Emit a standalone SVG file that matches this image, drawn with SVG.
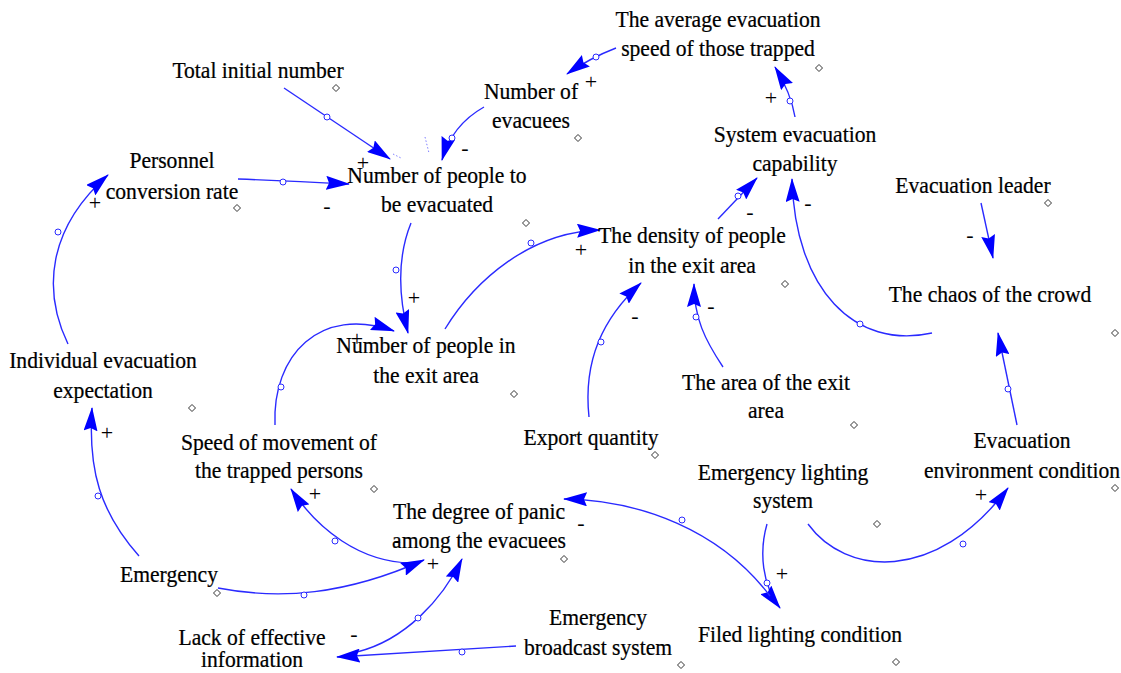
<svg xmlns="http://www.w3.org/2000/svg" width="1121" height="673" viewBox="0 0 1121 673">
<defs>
<style>
.t{font-family:"Liberation Serif","Times New Roman",serif;font-size:24px;fill:#000;text-anchor:middle;stroke:#000;stroke-width:0.25}
.s{font-family:"Liberation Serif","Times New Roman",serif;font-size:22px;fill:#000;text-anchor:middle}
.c{fill:none;stroke:#2a2aff;stroke-width:1.4;marker-end:url(#ah)}
.h{fill:#fff;stroke:#2a2aff;stroke-width:1}
.d{fill:#fff;stroke:#333;stroke-width:1}
.dot{fill:none;stroke:#7f7fff;stroke-width:1;stroke-dasharray:1.5 2}
</style>
<marker id="ah" viewBox="0 0 24 14" refX="23" refY="7" markerWidth="24" markerHeight="14" markerUnits="userSpaceOnUse" orient="auto">
<path d="M0,0 L24,7 L0,14 L3,7 Z" fill="#0000ff"/>
</marker>
<path id="dm" d="M0,-3.5 L3.5,0 L0,3.5 L-3.5,0 Z"/>
</defs>
<rect width="1121" height="673" fill="#fff"/>

<g id="connectors">
<path class="c" d="M616,48 Q590,58 567,74"/>
<path class="c" d="M795,117 Q791,93 775,67"/>
<path class="c" d="M284,88 L390,159"/>
<path class="c" d="M484,107 Q452,125 442,160"/>
<path class="c" d="M238,179 Q290,181 349,184"/>
<path class="c" d="M68,344 C42,290 48,228 108,175"/>
<path class="c" d="M411,223 Q392,270 408,333"/>
<path class="c" d="M275,425 C272,355 320,305 394,331"/>
<path class="c" d="M445,329 C475,280 530,232 600,230"/>
<path class="c" d="M718,219 L757,178"/>
<path class="c" d="M932,333 C855,350 795,290 792,179"/>
<path class="c" d="M981,203 L993,258"/>
<path class="c" d="M589,417 C583,360 603,318 641,283"/>
<path class="c" d="M723,367 C705,340 694,318 694,284"/>
<path class="c" d="M1017,425 L998,333"/>
<path class="c" d="M808,524 C845,575 935,585 1008,488"/>
<path class="c" d="M767,524 C759,552 762,585 780,608"/>
<path class="c" d="M770,596 C720,530 640,500 564,499"/>
<path class="c" d="M411,563 C360,562 318,530 291,489"/>
<path class="c" d="M218,588 C280,600 345,595 424,560"/>
<path class="c" d="M139,556 C100,512 88,470 92,408"/>
<path class="c" d="M357,652 C405,640 442,600 462,559"/>
<path class="c" d="M516,646 L337,657"/>
<line class="dot" x1="393" y1="154" x2="401" y2="158"/>
<line class="dot" x1="425" y1="137" x2="429" y2="153"/>
<g id="handles">
<circle class="h" cx="596" cy="57" r="3"/>
<circle class="h" cx="790" cy="101" r="3"/>
<circle class="h" cx="327" cy="117" r="3"/>
<circle class="h" cx="452" cy="138" r="3"/>
<circle class="h" cx="283" cy="182" r="3"/>
<circle class="h" cx="58" cy="232" r="3"/>
<circle class="h" cx="396" cy="270" r="3"/>
<circle class="h" cx="281" cy="387" r="3"/>
<circle class="h" cx="531" cy="243" r="3"/>
<circle class="h" cx="738" cy="196" r="3"/>
<circle class="h" cx="860" cy="324" r="3"/>
<circle class="h" cx="601" cy="342" r="3"/>
<circle class="h" cx="696" cy="317" r="3"/>
<circle class="h" cx="1008" cy="389" r="3"/>
<circle class="h" cx="963" cy="544" r="3"/>
<circle class="h" cx="767" cy="583" r="3"/>
<circle class="h" cx="682" cy="520" r="3"/>
<circle class="h" cx="335" cy="541" r="3"/>
<circle class="h" cx="304" cy="595" r="3"/>
<circle class="h" cx="98" cy="496" r="3"/>
<circle class="h" cx="418" cy="618" r="3"/>
<circle class="h" cx="462" cy="652" r="3"/>
</g>
<g id="polarities">
<text class="s" x="591" y="89">+</text>
<text class="s" x="771" y="105">+</text>
<text class="s" x="363" y="170">+</text>
<text class="s" x="465" y="155">-</text>
<text class="s" x="327" y="213">-</text>
<text class="s" x="95" y="210">+</text>
<text class="s" x="414" y="305">+</text>
<text class="s" x="357" y="346">+</text>
<text class="s" x="581" y="257">+</text>
<text class="s" x="750" y="219">-</text>
<text class="s" x="808" y="210">-</text>
<text class="s" x="970" y="242">-</text>
<text class="s" x="635" y="323">-</text>
<text class="s" x="711" y="313">-</text>
<text class="s" x="107" y="440">+</text>
<text class="s" x="315" y="501">+</text>
<text class="s" x="433" y="571">+</text>
<text class="s" x="397" y="547">-</text>
<text class="s" x="354" y="641">-</text>
<text class="s" x="581" y="530">-</text>
<text class="s" x="782" y="581">+</text>
<text class="s" x="981" y="502">+</text>
</g>
</g>

<g id="n-avg-speed"><text class="t" transform="translate(718,27) scale(0.9,1)"><tspan x="0">The average evacuation</tspan><tspan x="0" dy="29">speed of those trapped</tspan></text><use href="#dm" class="d" x="819" y="68"/></g>
<g id="n-evacuees"><text class="t" transform="translate(531,99) scale(0.9,1)"><tspan x="0">Number of</tspan><tspan x="0" dy="29">evacuees</tspan></text><use href="#dm" class="d" x="578" y="138"/></g>
<g id="n-total"><text class="t" transform="translate(258,78) scale(0.9,1)">Total initial number</text><use href="#dm" class="d" x="336" y="88"/></g>
<g id="n-to-evac"><text class="t" transform="translate(437,183) scale(0.9,1)"><tspan x="0">Number of people to</tspan><tspan x="0" dy="29">be evacuated</tspan></text><use href="#dm" class="d" x="526" y="223"/></g>
<g id="n-personnel"><text class="t" transform="translate(172,168) scale(0.9,1)"><tspan x="0">Personnel</tspan><tspan x="0" dy="31">conversion rate</tspan></text><use href="#dm" class="d" x="237" y="208"/></g>
<g id="n-sys-cap"><text class="t" transform="translate(795,142) scale(0.9,1)"><tspan x="0">System evacuation</tspan><tspan x="0" dy="29">capability</tspan></text></g>
<g id="n-leader"><text class="t" transform="translate(973,193) scale(0.9,1)">Evacuation leader</text><use href="#dm" class="d" x="1048" y="203"/></g>
<g id="n-density"><text class="t" transform="translate(692,243) scale(0.9,1)"><tspan x="0">The density of people</tspan><tspan x="0" dy="30">in the exit area</tspan></text><use href="#dm" class="d" x="785" y="284"/></g>
<g id="n-chaos"><text class="t" transform="translate(990,302) scale(0.9,1)">The chaos of the crowd</text><use href="#dm" class="d" x="1115" y="333"/></g>
<g id="n-in-exit"><text class="t" transform="translate(426,353) scale(0.9,1)"><tspan x="0">Number of people in</tspan><tspan x="0" dy="30">the exit area</tspan></text><use href="#dm" class="d" x="514" y="394"/></g>
<g id="n-individual"><text class="t" transform="translate(103,368) scale(0.9,1)"><tspan x="0">Individual evacuation</tspan><tspan x="0" dy="30">expectation</tspan></text><use href="#dm" class="d" x="192" y="408"/></g>
<g id="n-area"><text class="t" transform="translate(766,390) scale(0.9,1)"><tspan x="0">The area of the exit</tspan><tspan x="0" dy="28">area</tspan></text><use href="#dm" class="d" x="854" y="425"/></g>
<g id="n-export"><text class="t" transform="translate(591,445) scale(0.9,1)">Export quantity</text><use href="#dm" class="d" x="655" y="455"/></g>
<g id="n-env"><text class="t" transform="translate(1022,448) scale(0.9,1)"><tspan x="0">Evacuation</tspan><tspan x="0" dy="30">environment condition</tspan></text><use href="#dm" class="d" x="1115" y="488"/></g>
<g id="n-speed"><text class="t" transform="translate(279,450) scale(0.9,1)"><tspan x="0">Speed of movement of</tspan><tspan x="0" dy="28">the trapped persons</tspan></text><use href="#dm" class="d" x="374" y="489"/></g>
<g id="n-em-lighting"><text class="t" transform="translate(783,480) scale(0.9,1)"><tspan x="0">Emergency lighting</tspan><tspan x="0" dy="28">system</tspan></text><use href="#dm" class="d" x="877" y="524"/></g>
<g id="n-panic"><text class="t" transform="translate(479,519) scale(0.9,1)"><tspan x="0">The degree of panic</tspan><tspan x="0" dy="29">among the evacuees</tspan></text><use href="#dm" class="d" x="564" y="559"/></g>
<g id="n-emergency"><text class="t" transform="translate(169,582) scale(0.9,1)">Emergency</text><use href="#dm" class="d" x="217" y="593"/></g>
<g id="n-broadcast"><text class="t" transform="translate(598,625) scale(0.9,1)"><tspan x="0">Emergency</tspan><tspan x="0" dy="30">broadcast system</tspan></text><use href="#dm" class="d" x="681" y="665"/></g>
<g id="n-lack"><text class="t" transform="translate(252,645) scale(0.9,1)"><tspan x="0">Lack of effective</tspan><tspan x="0" dy="22">information</tspan></text></g>
<g id="n-filed"><text class="t" transform="translate(800,642) scale(0.9,1)">Filed lighting condition</text><use href="#dm" class="d" x="896" y="662"/></g>
</svg>
